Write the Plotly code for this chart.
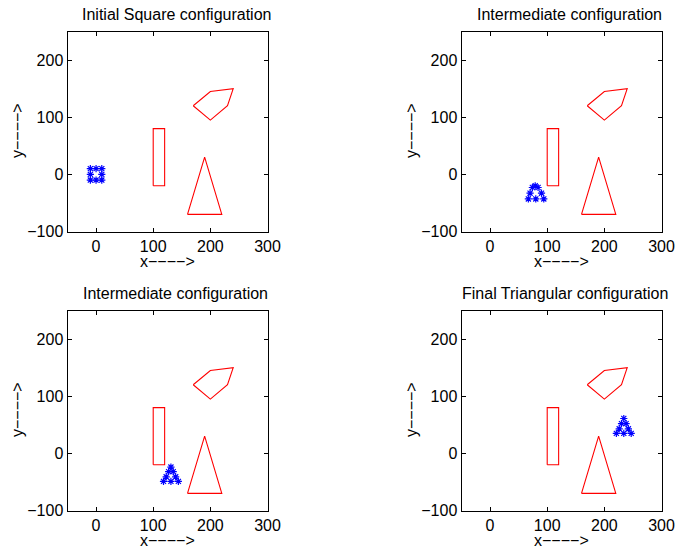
import plotly.graph_objects as go

# Obstacles (shared by all four panels)
rect_x = [100, 120, 120, 100, 100]
rect_y = [-20, -20, 80, 80, -20]
tri_x = [160, 190, 220, 160]
tri_y = [-70, 30, -70, -70]
pent_x = [170, 200, 240, 230, 200, 170]
pent_y = [120, 145, 150, 120, 95, 120]

# Robot formations at each stage
square_x = [-10, 0, 10, -10, 10, -10, 0, 10]
square_y = [10, 10, 10, 0, 0, -10, -10, -10]

mid1_x = [74, 79, 84, 70, 90, 67, 80, 94]
mid1_y = [-23, -20, -23, -33, -33, -43, -43, -43]

mid2_x = [131, 127, 135, 122.7, 139.3, 118, 131, 144]
mid2_y = [-24, -32, -32, -41, -41, -49, -49, -49]

final_x = [234, 230, 238, 226, 242, 221, 234, 247]
final_y = [61, 52, 52, 43, 43, 35, 35, 35]

titles = [
    "Initial Square configuration",
    "Intermediate configuration",
    "Intermediate configuration",
    "Final Triangular configuration",
]
formations = [(square_x, square_y), (mid1_x, mid1_y), (mid2_x, mid2_y), (final_x, final_y)]

x_ticks = [0, 100, 200, 300]
y_ticks = [-100, 0, 100, 200]
x_range = [-50, 300]
y_range = [-100, 250]
x_label = "x\u2212\u2212\u2212\u2212>"
y_label = "y\u2212\u2212\u2212\u2212>"

W, H = 675, 550
# panel boxes in pixels: (left, right, top, bottom)
boxes = [
    (67.5, 267.5, 31.5, 231.5),
    (461.5, 661.5, 31.5, 231.5),
    (67.5, 267.5, 310.5, 510.5),
    (461.5, 661.5, 310.5, 510.5),
]
# horizontal nudge of each panel title (px)
title_shift = [9, 8, 8, 3]

FONT = "Liberation Sans, Arial, sans-serif"
FS = 16

fig = go.Figure()
layout = dict(
    width=W, height=H,
    margin=dict(l=0, r=0, t=0, b=0, autoexpand=False),
    paper_bgcolor="white", plot_bgcolor="white",
    showlegend=False,
    font=dict(family=FONT, size=FS, color="black"),
    annotations=[],
)

for i, (box, title, (fx, fy)) in enumerate(zip(boxes, titles, formations)):
    n = "" if i == 0 else str(i + 1)
    xa, ya = "x" + n, "y" + n
    for sx, sy in [(rect_x, rect_y), (tri_x, tri_y), (pent_x, pent_y)]:
        fig.add_trace(go.Scatter(x=sx, y=sy, mode="lines",
                                 line=dict(color="#ff0000", width=1.1),
                                 xaxis=xa, yaxis=ya, hoverinfo="skip"))
    fig.add_trace(go.Scatter(x=fx, y=fy, mode="markers",
                             marker=dict(symbol="asterisk-open", size=6, color="#0000ff",
                                         line=dict(color="#0000ff", width=1.2)),
                             xaxis=xa, yaxis=ya))

    l, r, t, b = box
    common = dict(showgrid=False, zeroline=False, showline=True, mirror="ticks",
                  automargin=False,
                  linecolor="black", linewidth=1, ticks="inside", ticklen=4,
                  tickcolor="black", tickfont=dict(family=FONT, size=FS, color="black"))
    layout["xaxis" + n] = dict(domain=[l / W, r / W], range=x_range, tickvals=x_ticks,
                               anchor=ya, **common)
    layout["yaxis" + n] = dict(domain=[1 - b / H, 1 - t / H], range=y_range, tickvals=y_ticks,
                               anchor=xa, **common)

    cx = (l + r) / 2
    cy = (t + b) / 2
    layout["annotations"] += [
        dict(text=title, x=(cx + title_shift[i]) / W, y=1 - (t - 17.5) / H,
             xref="paper", yref="paper",
             showarrow=False, xanchor="center", yanchor="middle",
             font=dict(family=FONT, size=FS, color="black")),
        dict(text=x_label, x=cx / W, y=1 - (b + 30) / H, xref="paper", yref="paper",
             showarrow=False, xanchor="center", yanchor="middle",
             font=dict(family=FONT, size=FS, color="black")),
        dict(text=y_label, x=(l - 50) / W, y=1 - (cy - 1) / H, xref="paper", yref="paper",
             showarrow=False, xanchor="center", yanchor="middle", textangle=-90,
             font=dict(family=FONT, size=FS, color="black")),
    ]

fig.update_layout(**layout)
fig.write_html("out.html",
               post_script="document.body.style.margin='0';document.body.style.overflow='hidden';")
